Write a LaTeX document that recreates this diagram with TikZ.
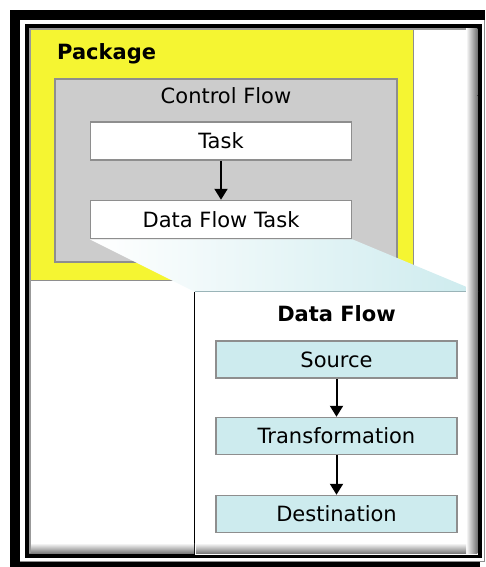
\documentclass[tikz,border=0pt]{standalone}
\usepackage{fontspec}
\setmainfont{DejaVu Sans}
\usepackage{tikz}
\usetikzlibrary{arrows.meta,positioning}
\definecolor{pkgyellow}{HTML}{F5F532}
\definecolor{cfgray}{HTML}{CCCCCC}
\definecolor{edgegray}{HTML}{8E8E8E}
\definecolor{dfcyan}{HTML}{CDEBEE}
\definecolor{dfedge}{HTML}{9AB4B8}

\begin{document}
\begin{tikzpicture}[
      x=1pt,y=-1pt,
      font=\fontsize{21}{24}\selectfont,
      node distance=38pt,
      box/.style={draw=edgegray,line width=1.5pt,fill=white,inner sep=0pt,minimum width=261pt,minimum height=38pt},
      flowbox/.style={box,fill=dfcyan,minimum width=241pt,minimum height=37pt},
      area/.style={draw=edgegray,line width=1pt,inner sep=0pt},
      title/.style={inner sep=0pt,font=\fontsize{21}{24}\selectfont\bfseries},
      arrow/.style={-{Triangle[length=11pt,width=13pt]},line width=2pt}
    ]
    \useasboundingbox (0,0) rectangle (485,567);
    % frames
    \fill (10,10) rectangle (485,20);
    \fill (10,10) rectangle (20,567);
    \fill (10,562) rectangle (480,567);
    \draw[edgegray,line width=0.8pt] (484,20) -- (484,561) -- (20,561);
    \draw[line width=4.5pt] (27,26) rectangle (479.5,556);
    % control flow side
    \node[area,fill=pkgyellow,minimum width=383pt,minimum height=250pt] (pkg) at (221.5,155) {};
    \node[title,anchor=north west] (pkgtitle) at (57,43) {Package};
    \node[area,fill=cfgray,line width=1.5pt,minimum width=342pt,minimum height=183pt] (cflow) at (226,170.5) {};
    \node[inner sep=0pt,anchor=north] (cftitle) at ([yshift=-9pt]cflow.north) {Control Flow};
    \node[box] (task) at (221,141) {Task};
    \node[box,below=39pt of task] (dftask) {Data Flow Task};
    \draw[arrow] (task) -- (dftask);
    % data flow side
    \node[inner sep=0pt,fill=white,minimum width=283pt,minimum height=263pt] (dflow) at (336.5,423.5) {};
    \shade[left color=white,right color=dfcyan] (dftask.south west) -- (dftask.south east) -- (dflow.north east) -- (dflow.north west) -- cycle;
    \draw[line width=1.2pt] (dflow.north west) -- (dflow.south west);
    \draw[dfedge,line width=1.2pt] (dflow.north west) -- (dflow.north east);
    \node[title,anchor=north] (dftitle) at ([yshift=-14pt]dflow.north) {Data Flow};
    \node[flowbox] (source) at (336.5,359.5) {Source};
    \node[flowbox,below=of source] (trans) {Transformation};
    \node[flowbox,below=39.5pt of trans] (dest) {Destination};
    \draw[arrow] (source) -- (trans);
    \draw[arrow] (trans) -- (dest);
    % inner shadow
    \shade[left color=white,right color=black!55] (466,96) rectangle (477.3,553.8);
    \shade[left color=white,right color=black!55] (466,28.2) rectangle (477.3,96);
    \shade[top color=white,bottom color=black!55] (196,543) rectangle (466,553.8);
    \shade[top color=white,bottom color=black!55] (29.2,543) rectangle (194,553.8);
    \draw[black!40,line width=2pt] (30.2,553) -- (30.2,29.2) -- (466,29.2);
  \end{tikzpicture}
\end{document}
